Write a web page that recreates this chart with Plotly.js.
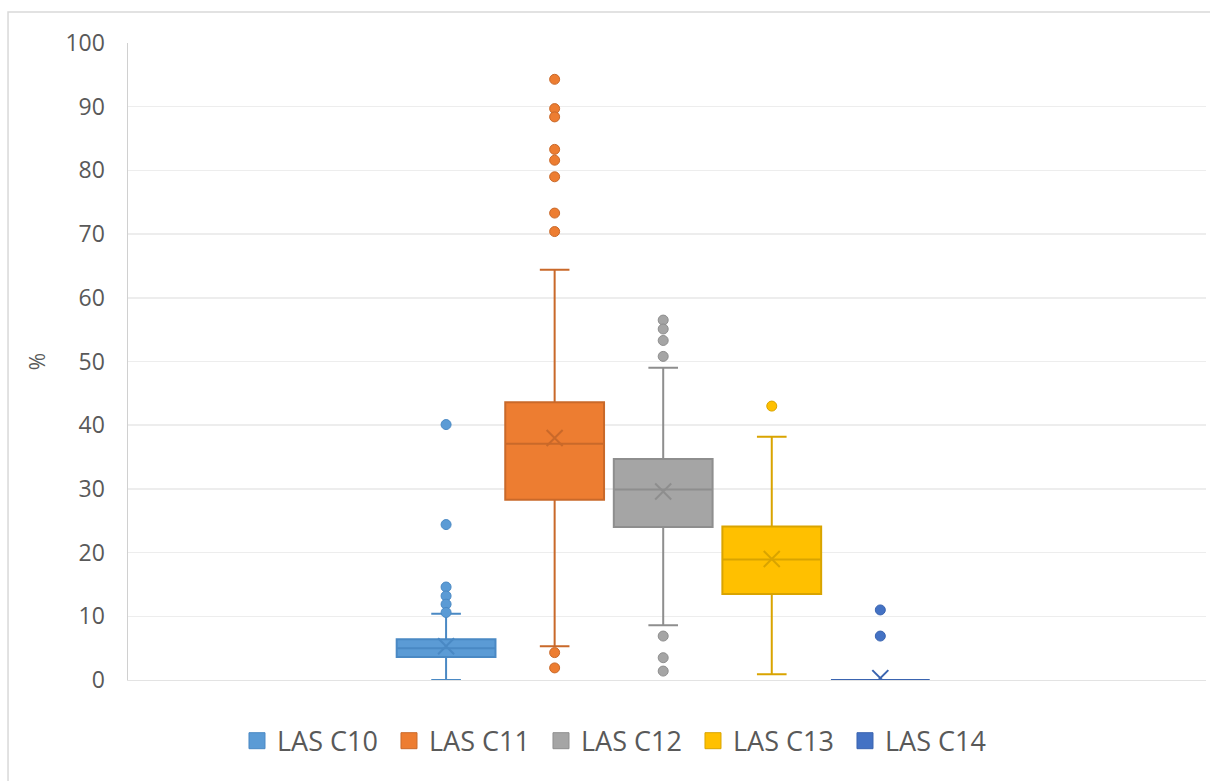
<!DOCTYPE html>
<html>
<head>
<meta charset="utf-8">
<script src="https://cdn.plot.ly/plotly-3.0.1.min.js"></script>
<style>html,body{margin:0;padding:0;background:#fff;}#chart{width:1210px;height:781px;}</style>
</head>
<body>
<div id="chart"></div>
<script>
const seriesNames = ['LAS C10', 'LAS C11', 'LAS C12', 'LAS C13', 'LAS C14'];
const q1Values = [3.6, 28.3, 24.0, 13.5, 0];
const medianValues = [5.0, 37.1, 29.9, 18.9, 0];
const q3Values = [6.4, 43.6, 34.7, 24.1, 0];
const lowerWhisker = [0, 5.3, 8.6, 0.9, 0];
const upperWhisker = [10.4, 64.4, 49.0, 38.2, 0];
const meanValues = [5.3, 38.0, 29.6, 19.0, 0.3];
const outliersC10 = [40.1, 24.4, 14.6, 13.2, 11.9, 10.6];
const outliersC11 = [94.3, 89.7, 88.4, 83.3, 81.6, 79.0, 73.3, 70.4, 4.3, 1.9];
const outliersC12 = [56.5, 55.1, 53.3, 50.8, 6.9, 3.5, 1.4];
const outliersC13 = [43.0];
const outliersC14 = [11.0, 6.9];
const yTicks = [0, 10, 20, 30, 40, 50, 60, 70, 80, 90, 100];

const outliers = [outliersC10, outliersC11, outliersC12, outliersC13, outliersC14];
const fills = ['#5B9BD5', '#ED7D31', '#A5A5A5', '#FFC000', '#4472C4'];
const lines = ['#4A89C4', '#C9692A', '#8E8E8E', '#D9A400', '#3A64B0'];

const traces = [];
seriesNames.forEach((name, i) => {
  traces.push({
    type: 'box', name: name, x: [i],
    q1: [q1Values[i]], median: [medianValues[i]], q3: [q3Values[i]],
    lowerfence: [lowerWhisker[i]], upperfence: [upperWhisker[i]],
    boxpoints: false, width: 0.91, whiskerwidth: 0.3,
    fillcolor: fills[i], line: {color: lines[i], width: 2},
    showlegend: false, hoverinfo: 'skip'
  });
});
seriesNames.forEach((name, i) => {
  traces.push({
    type: 'scatter', mode: 'markers', x: outliers[i].map(() => i), y: outliers[i],
    marker: {size: 10, color: fills[i], line: {color: lines[i], width: 1}},
    showlegend: false, hoverinfo: 'skip'
  });
  traces.push({
    type: 'scatter', mode: 'markers', x: [i], y: [meanValues[i]],
    marker: {size: 16, symbol: 'x-thin-open', color: lines[i], line: {color: lines[i], width: 2}},
    showlegend: false, hoverinfo: 'skip'
  });
});
seriesNames.forEach((name, i) => {
  traces.push({
    type: 'scatter', mode: 'markers', name: name, x: [null], y: [null],
    marker: {size: 20, symbol: 'square', color: fills[i], line: {color: lines[i], width: 1}},
    showlegend: true, hoverinfo: 'skip'
  });
});

const layout = {
  width: 1210, height: 781,
  margin: {l: 128, r: 4, t: 43, b: 101},
  paper_bgcolor: '#fff', plot_bgcolor: '#fff',
  font: {family: 'Open Sans, Lato, sans-serif', color: '#595959'},
  showlegend: true,
  xaxis: {range: [-2.93, 7.0], showticklabels: false, showgrid: false, zeroline: false,
          showline: true, linecolor: '#E3E3E3', linewidth: 1, ticks: '', fixedrange: true},
  yaxis: {range: [0, 100], tickvals: yTicks, ticktext: yTicks.map(String),
          showgrid: true, gridcolor: '#EDEDED', gridwidth: 1.5, zeroline: false,
          showline: true, linecolor: '#D0D0D0', linewidth: 1.5,
          ticks: '', ticklabelstandoff: 17,
          tickfont: {size: 23, color: '#595959', family: 'Open Sans, sans-serif'},
          title: {text: '%', font: {size: 21, color: '#595959'}, standoff: 14}},
  legend: {orientation: 'h', x: 0.1011, xanchor: 'left', xref: 'paper',
           y: -0.096, yanchor: 'middle',
           font: {size: 27, color: '#595959', family: 'Open Sans, sans-serif'},
           itemsizing: 'trace', itemwidth: 30, entrywidth: 107, entrywidthmode: 'pixels',
           traceorder: 'normal'},
  shapes: [{type: 'rect', xref: 'paper', yref: 'paper', x0: -0.1113, x1: 1.1, y0: -0.25, y1: 1.0487,
            line: {color: '#D9D9D9', width: 1.5}, fillcolor: 'rgba(0,0,0,0)', layer: 'below'}]
};

Plotly.newPlot('chart', traces, layout, {displayModeBar: false, staticPlot: true});
</script>
</body>
</html>
